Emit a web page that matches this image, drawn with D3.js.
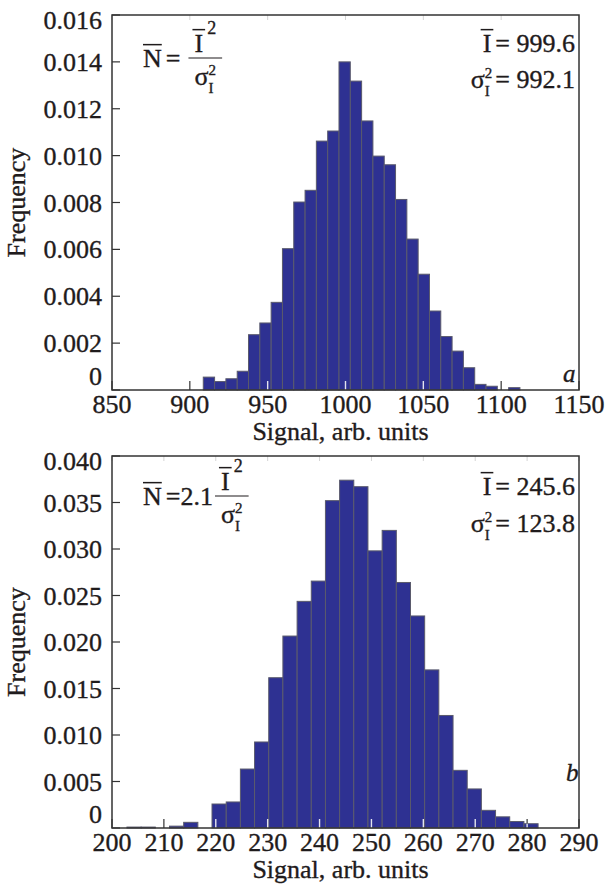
<!DOCTYPE html>
<html><head><meta charset="utf-8">
<script src="https://cdnjs.cloudflare.com/ajax/libs/d3/7.8.5/d3.min.js"></script>
<style>
body{margin:0;background:#fff}
svg{display:block}
text{font-family:"Liberation Serif","Times New Roman",serif;fill:#1f1b1c;stroke:#1f1b1c;stroke-width:0.35px}
</style>
</head><body>
<svg id="c" width="616" height="890"></svg>
<script>
// ---------- data: panel a ----------
const topBinCenters = [912.27, 919.54, 926.80, 934.07, 941.33, 948.60, 955.86, 963.13, 970.39, 977.66,
  984.92, 992.19, 999.45, 1006.72, 1013.98, 1021.25, 1028.51, 1035.78, 1043.04, 1050.31,
  1057.57, 1064.84, 1072.10, 1079.37, 1086.63, 1093.90, 1101.16, 1108.43];
const topFreq = [0.00055, 0.00036, 0.00048, 0.00080, 0.00236, 0.00286, 0.00374, 0.00603, 0.00802, 0.00852,
  0.01062, 0.01105, 0.01400, 0.01318, 0.01148, 0.00998, 0.00961, 0.00813, 0.00644, 0.00494,
  0.00337, 0.00228, 0.00166, 0.00095, 0.00024, 0.00016, 0, 0.00010];
const topBinWidth = 7.265;
const topXTicks = [850, 900, 950, 1000, 1050, 1100, 1150];
const topYTicks = [0, 0.002, 0.004, 0.006, 0.008, 0.010, 0.012, 0.014, 0.016];
const topYTickLabels = ["0", "0.002", "0.004", "0.006", "0.008", "0.010", "0.012", "0.014", "0.016"];
const topMeanText = "999.6";
const topVarText = "992.1";
const topPrefix = "";

// ---------- data: panel b ----------
const botBinCenters = [201.52, 204.25, 206.98, 209.71, 212.45, 215.18, 217.91, 220.64, 223.38, 226.11,
  228.84, 231.57, 234.30, 237.04, 239.77, 242.50, 245.23, 247.96, 250.70, 253.43,
  256.16, 258.89, 261.62, 264.36, 267.09, 269.82, 272.55, 275.28, 278.02, 280.75];
const botFreq = [0, 0.0001, 0.0001, 0, 0.0002, 0.00061, 0, 0.00258, 0.0028, 0.00634,
  0.00925, 0.01616, 0.02064, 0.02437, 0.02655, 0.0352, 0.0374, 0.0367, 0.0298, 0.0320,
  0.0264, 0.0228, 0.0170, 0.0121, 0.0062, 0.0042, 0.0019, 0.0012, 0.0007, 0.00046];
const botBinWidth = 2.732;
const botXTicks = [200, 210, 220, 230, 240, 250, 260, 270, 280, 290];
const botYTicks = [0, 0.005, 0.010, 0.015, 0.020, 0.025, 0.030, 0.035, 0.040];
const botYTickLabels = ["0", "0.005", "0.010", "0.015", "0.020", "0.025", "0.030", "0.035", "0.040"];
const botMeanText = "245.6";
const botVarText = "123.8";
const botPrefix = "2.1";

// ---------- drawing ----------
const FS = 26, INK = "#1f1b1c";
const BAR = "#2e3192", EDGE = "#5a5a6c";
const svg = d3.select("#c");

function txt(parent, x, y, str, opt = {}) {
  const size = opt.size || FS;
  const g = parent.append("g").attr("transform",
    `translate(${x},${y})${opt.rotate ? ` rotate(${opt.rotate})` : ""}`);
  const t = g.append("text").attr("font-size", size).attr("text-anchor", opt.anchor || "start").text(str);
  if (opt.italic) t.attr("font-style", "italic");
  if (opt.dy) t.attr("dy", opt.dy);
  return g;
}

// lay out a row of math pieces starting at local x=0, baseline y=0
function mathRow(parent, pieces, size) {
  const g = parent.append("g");
  let x = 0;
  for (const p of pieces) {
    if (p.gap !== undefined) { x += p.gap; continue; }
    if (p.sup !== undefined || p.sub !== undefined) {
      const s = p.size || 15;
      let w = 0;
      if (p.sup !== undefined) {
        const t = g.append("text").attr("x", x).attr("y", p.supY ?? -10).attr("font-size", s).text(p.sup);
        w = Math.max(w, t.node().getComputedTextLength());
      }
      if (p.sub !== undefined) {
        const t = g.append("text").attr("x", x).attr("y", p.subY ?? 8).attr("font-size", s).text(p.sub);
        w = Math.max(w, t.node().getComputedTextLength());
      }
      x += w; continue;
    }
    const s = p.size || size;
    const t = g.append("text").attr("x", x).attr("y", 0).attr("font-size", s).text(p.t);
    const w = t.node().getComputedTextLength();
    if (p.bar) {
      const pad = p.barPad || 0;
      g.append("line").attr("x1", x - pad).attr("x2", x + w + pad)
        .attr("y1", -s * 0.86).attr("y2", -s * 0.86).attr("stroke", INK).attr("stroke-width", 1.5);
    }
    x += w;
  }
  return { g, width: x };
}

function rightRow(parent, xr, y, pieces) {
  const holder = parent.append("g");
  const r = mathRow(holder, pieces, FS);
  holder.attr("transform", `translate(${xr - r.width},${y})`);
}

function formula(parent, x, y, prefix) {
  const holder = parent.append("g").attr("transform", `translate(${x},${y})`);
  const pre = [{ t: "N", bar: true }, { gap: 4 }, { t: "=" }];
  if (prefix) pre.push({ t: prefix }); else pre.push({ gap: 6 });
  const r = mathRow(holder, pre, FS);
  const num = mathRow(holder, [{ t: "I", bar: true, barPad: 2 }, { gap: 4 }, { sup: "2", supY: -18, size: 18 }], FS);
  const den = mathRow(holder, [{ t: "σ" }, { sup: "2", sub: "I", supY: -10, subY: 8, size: 15 }], FS);
  const lw = Math.max(num.width, den.width) + 12;
  const lx = r.width + 2, ly = -9;
  holder.append("line").attr("x1", lx).attr("x2", lx + lw).attr("y1", ly).attr("y2", ly)
    .attr("stroke", INK).attr("stroke-width", 1.2);
  num.g.attr("transform", `translate(${lx + (lw - num.width) / 2},${ly - 6})`);
  den.g.attr("transform", `translate(${lx + (lw - den.width) / 2},${ly + 27})`);
}

function panel(cfg) {
  const { x0, x1, y0, y1 } = cfg;
  const x = d3.scaleLinear().domain(cfg.xDomain).range([x0, x1]);
  const y = d3.scaleLinear().domain(cfg.yDomain).range([y1, y0]);
  const g = svg.append("g");
  const bw = cfg.binW;

  // inward ticks (bottom, left) and faint top ticks
  g.selectAll(null).data(cfg.xTicks).join("line")
    .attr("x1", d => x(d)).attr("x2", d => x(d)).attr("y1", y1).attr("y2", y1 - 9)
    .attr("stroke", "#333").attr("stroke-width", 1.2);
  g.selectAll(null).data(cfg.xTicks).join("line")
    .attr("x1", d => x(d)).attr("x2", d => x(d)).attr("y1", y0).attr("y2", y0 + 5)
    .attr("stroke", "#d4d4d4").attr("stroke-width", 1);
  g.selectAll(null).data(cfg.yTicks).join("line")
    .attr("x1", x0).attr("x2", x0 + 8).attr("y1", d => y(d)).attr("y2", d => y(d))
    .attr("stroke", "#333").attr("stroke-width", 1.2);

  // bars
  const bars = cfg.centers.map((c, i) => ({ c, f: cfg.freq[i] })).filter(d => d.f > 0);
  g.selectAll(null).data(bars).join("rect")
    .attr("x", d => x(d.c - bw / 2)).attr("width", d => x(d.c + bw / 2) - x(d.c - bw / 2))
    .attr("y", d => y(d.f)).attr("height", d => y(0) - y(d.f))
    .attr("fill", BAR).attr("stroke", EDGE).attr("stroke-width", 1);

  // ticks show light over the bars
  const over = cfg.xTicks.map(t => {
    const b = bars.find(d => t > d.c - bw / 2 && t < d.c + bw / 2);
    return b ? { t, h: Math.min(9, y(0) - y(b.f)) } : null;
  }).filter(Boolean);
  g.selectAll(null).data(over).join("line")
    .attr("x1", d => x(d.t)).attr("x2", d => x(d.t)).attr("y1", y1).attr("y2", d => y1 - d.h)
    .attr("stroke", "#e4e4ee").attr("stroke-width", 1.4);

  // frame
  g.append("rect").attr("x", x0).attr("y", y0).attr("width", x1 - x0).attr("height", y1 - y0)
    .attr("fill", "none").attr("stroke", "#333").attr("stroke-width", 1.5);

  // tick labels
  cfg.xTicks.forEach(t => txt(g, x(t), y1 + 23, String(t), { anchor: "middle" }));
  cfg.yTicks.forEach((t, i) => {
    const yy = Math.min(Math.max(y(t), y0 + 5), y1 - 14);
    txt(g, x0 - 10, yy, cfg.yTickLabels[i], { anchor: "end", dy: "0.35em" });
  });

  // axis titles
  txt(g, (x0 + x1) / 2 - 5, y1 + 50, "Signal, arb. units", { anchor: "middle" });
  txt(g, 25, (y0 + y1) / 2, "Frequency", { anchor: "middle", rotate: -90, size: 26 });

  // panel letter
  txt(g, cfg.letterX, cfg.letterY, cfg.letter, { italic: true, size: 25 });

  // annotations
  formula(g, 143, cfg.formulaY, cfg.prefix);
  rightRow(g, x1 - 4, cfg.meanY, [{ t: "I", bar: true, barPad: 2 }, { gap: 4 }, { t: "= " + cfg.meanText }]);
  rightRow(g, x1 - 4, cfg.varY, [{ t: "σ" }, { sup: "2", sub: "I", supY: -10, subY: 8, size: 15 }, { gap: 3 }, { t: "= " + cfg.varText }]);
}

panel({
  x0: 112, x1: 579, y0: 15, y1: 390,
  xDomain: [850, 1150], yDomain: [0, 0.016],
  centers: topBinCenters, freq: topFreq, binW: topBinWidth,
  xTicks: topXTicks, yTicks: topYTicks, yTickLabels: topYTickLabels,
  letter: "a", letterX: 563, letterY: 382,
  formulaY: 67, prefix: topPrefix,
  meanY: 52, varY: 88, meanText: topMeanText, varText: topVarText
});
panel({
  x0: 112, x1: 579, y0: 456, y1: 828,
  xDomain: [200, 290], yDomain: [0, 0.040],
  centers: botBinCenters, freq: botFreq, binW: botBinWidth,
  xTicks: botXTicks, yTicks: botYTicks, yTickLabels: botYTickLabels,
  letter: "b", letterX: 566, letterY: 781,
  formulaY: 505, prefix: botPrefix,
  meanY: 495, varY: 532, meanText: botMeanText, varText: botVarText
});
</script>
</body></html>
